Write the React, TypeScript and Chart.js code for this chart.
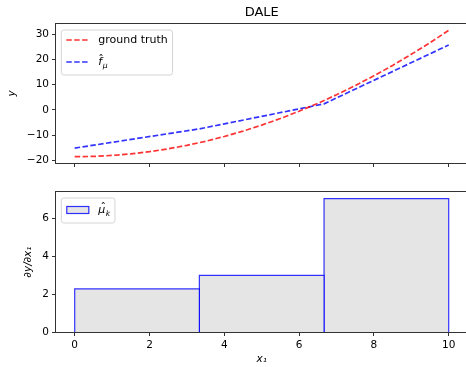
import React, { useEffect, useRef } from 'react';
import { Chart, registerables } from 'chart.js';

Chart.register(...registerables);

// ---------- data ----------
const gtX = [0, 0.5, 1, 1.5, 2, 2.5, 3, 3.5, 4, 4.5, 5, 5.5, 6, 6.5, 7, 7.5, 8, 8.5, 9, 9.5, 10];
const gtY = [-18.5, -18.4, -18.0, -17.4, -16.5, -15.4, -14.0, -12.4, -10.5, -8.4, -6.0, -3.4, -0.5, 2.6, 6.0, 9.6, 13.5, 17.6, 22.0, 26.6, 31.5];
const fhatX = [0, 3.333, 6.667, 10];
const fhatY = [-15.1, -7.5, 2.4, 25.7];
const binEdges = [0, 3.333, 6.667, 10];
const binHeights = [2.27, 2.98, 7.03];
const xRange = [-0.5, 10.5];
const topYRange = [-21, 34];
const botYRange = [0, 7.38];
const xStep = 2;
const topYStep = 10;
const botYStep = 2;

// ---------- styles ----------
const FONT = "'DejaVu Sans', sans-serif";
const RED = 'rgba(255,0,0,0.8)';
const BLUE = 'rgba(0,0,255,0.8)';
const BAR_FILL = '#e5e5e5';
const SPINE = '#333';
const DASH = [5.5, 2.4];
const LINE_W = 1.7;

const minusFmt = (v: any) => String(v).replace('-', '\u2212');

function drawLabel(ctx: CanvasRenderingContext2D, label: any, x: number, y: number, size: number) {
  ctx.fillStyle = '#000';
  ctx.textBaseline = 'middle';
  ctx.textAlign = 'left';
  if (label.text) {
    ctx.font = `${size}px ${FONT}`;
    ctx.fillText(label.text, x, y);
    return;
  }
  ctx.font = `italic ${size}px ${FONT}`;
  ctx.fillText(label.base, x, y);
  const bw = ctx.measureText(label.base).width;
  ctx.textAlign = 'center';
  ctx.font = `${size}px ${FONT}`;
  ctx.fillText('\u02C6', x + bw * 0.7, y - size * 0.18);
  ctx.textAlign = 'left';
  ctx.font = `italic ${size * 0.7}px ${FONT}`;
  ctx.fillText(label.sub, x + bw + 0.5, y + size * 0.35);
}

function labelWidth(ctx: CanvasRenderingContext2D, label: any, size: number) {
  if (label.text) {
    ctx.font = `${size}px ${FONT}`;
    return ctx.measureText(label.text).width;
  }
  ctx.font = `italic ${size}px ${FONT}`;
  const a = ctx.measureText(label.base).width;
  ctx.font = `italic ${size * 0.7}px ${FONT}`;
  return a + 0.5 + ctx.measureText(label.sub).width;
}

const framePlugin = {
  id: 'frame',
  afterDatasetsDraw(chart: any) {
    const { ctx, chartArea: a } = chart;
    ctx.save();
    ctx.strokeStyle = SPINE;
    ctx.lineWidth = 1;
    const l = Math.round(a.left) - 0.5;
    const t = Math.round(a.top) - 0.5;
    const r = Math.round(a.right) + 0.5;
    const b = Math.round(a.bottom) + 0.5;
    ctx.strokeRect(l, t, r - l, b - t);
    ctx.restore();
  },
};

const legendPlugin = {
  id: 'mplLegend',
  afterDraw(chart: any, _args: any, opts: any) {
    const items = opts && opts.items;
    if (!items || !items.length) return;
    const { ctx, chartArea: a } = chart;
    const size = opts.fontSize;
    ctx.save();
    let maxW = 0;
    items.forEach((it: any) => { maxW = Math.max(maxW, labelWidth(ctx, it.label, size)); });
    const x0 = a.left + opts.offsetX;
    const y0 = a.top + opts.offsetY;
    const w = opts.padL + opts.handleLen + opts.gap + maxW + opts.padR;
    const h = opts.height;
    const rr = 2.5;
    ctx.beginPath();
    ctx.moveTo(x0 + rr, y0);
    ctx.lineTo(x0 + w - rr, y0);
    ctx.quadraticCurveTo(x0 + w, y0, x0 + w, y0 + rr);
    ctx.lineTo(x0 + w, y0 + h - rr);
    ctx.quadraticCurveTo(x0 + w, y0 + h, x0 + w - rr, y0 + h);
    ctx.lineTo(x0 + rr, y0 + h);
    ctx.quadraticCurveTo(x0, y0 + h, x0, y0 + h - rr);
    ctx.lineTo(x0, y0 + rr);
    ctx.quadraticCurveTo(x0, y0, x0 + rr, y0);
    ctx.closePath();
    ctx.fillStyle = 'rgba(255,255,255,0.8)';
    ctx.fill();
    ctx.strokeStyle = '#d4d4d4';
    ctx.lineWidth = 1;
    ctx.stroke();
    items.forEach((it: any, i: number) => {
      const cy = y0 + opts.rows[i];
      const hx = x0 + opts.padL;
      if (it.kind === 'line') {
        ctx.beginPath();
        ctx.setLineDash(DASH);
        ctx.strokeStyle = it.color;
        ctx.lineWidth = LINE_W;
        ctx.moveTo(hx, cy);
        ctx.lineTo(hx + opts.handleLen, cy);
        ctx.stroke();
        ctx.setLineDash([]);
      } else {
        ctx.fillStyle = it.fill;
        ctx.fillRect(hx, cy - 4, opts.handleLen, 8);
        ctx.strokeStyle = it.color;
        ctx.lineWidth = 1.2;
        ctx.strokeRect(hx + 0.5, cy - 4 + 0.5, opts.handleLen - 1, 8 - 1);
      }
      drawLabel(ctx, it.label, hx + opts.handleLen + opts.gap, cy, size);
    });
    ctx.restore();
  },
};

function axisCommon(extra: any) {
  return {
    type: 'linear',
    border: { display: false },
    grid: {
      display: true,
      drawOnChartArea: false,
      drawTicks: true,
      tickLength: 4,
      tickColor: SPINE,
      tickWidth: 1,
    },
    ...extra,
  };
}

export default function App() {
  const topRef = useRef<HTMLCanvasElement>(null);
  const botRef = useRef<HTMLCanvasElement>(null);

  useEffect(() => {
    Chart.defaults.font.family = FONT;
    const tickFont = { family: FONT, size: 10.5 };
    const axisTitleFont = { family: FONT, size: 10.5, style: 'italic' };

    const top = new Chart(topRef.current as HTMLCanvasElement, {
      type: 'line',
      data: {
        datasets: [
          {
            label: 'ground truth',
            data: gtX.map((x, i) => ({ x, y: gtY[i] })),
            borderColor: RED,
            borderWidth: LINE_W,
            borderDash: DASH,
            pointRadius: 0,
            fill: false,
            tension: 0,
          },
          {
            label: 'f_mu',
            data: fhatX.map((x, i) => ({ x, y: fhatY[i] })),
            borderColor: BLUE,
            borderWidth: LINE_W,
            borderDash: DASH,
            pointRadius: 0,
            fill: false,
            tension: 0,
          },
        ],
      },
      options: {
        responsive: false,
        animation: false,
        devicePixelRatio: 1,
        events: [],
        layout: { padding: { left: 0, right: 12.6, top: 0, bottom: 0 } },
        plugins: {
          legend: { display: false },
          tooltip: { enabled: false },
          title: {
            display: true,
            text: 'DALE',
            color: '#000',
            fullSize: false,
            font: { family: FONT, size: 13, weight: 'normal' },
            padding: { top: 5, bottom: 3.4 },
          },
          mplLegend: {
            fontSize: 11,
            offsetX: 5.3,
            offsetY: 6,
            padL: 5,
            padR: 4.7,
            handleLen: 23,
            gap: 9,
            height: 45,
            rows: [10, 32],
            items: [
              { kind: 'line', color: RED, label: { text: 'ground truth' } },
              { kind: 'line', color: BLUE, label: { base: 'f', sub: '\u03BC' } },
            ],
          },
        } as any,
        scales: {
          x: axisCommon({
            min: xRange[0],
            max: xRange[1],
            ticks: { display: false, stepSize: xStep, includeBounds: false },
            afterFit: (s: any) => { s.height = 17; },
          }),
          y: axisCommon({
            min: topYRange[0],
            max: topYRange[1],
            ticks: { stepSize: topYStep, includeBounds: false, color: '#000', font: tickFont, padding: 3, callback: minusFmt },
            title: { display: true, text: 'y', color: '#000', font: axisTitleFont, padding: { top: 6, bottom: 0 } },
            afterFit: (s: any) => { s.width = 56; },
          }),
        } as any,
      },
      plugins: [framePlugin, legendPlugin],
    } as any);

    const bot = new Chart(botRef.current as HTMLCanvasElement, {
      type: 'line',
      data: {
        datasets: binHeights.map((h, i) => ({
          label: 'mu_k',
          data: [
            { x: binEdges[i], y: 0 },
            { x: binEdges[i], y: h },
            { x: binEdges[i + 1], y: h },
            { x: binEdges[i + 1], y: 0 },
          ],
          borderColor: BLUE,
          borderWidth: 1.2,
          backgroundColor: BAR_FILL,
          fill: 'origin',
          pointRadius: 0,
          tension: 0,
        })),
      },
      options: {
        responsive: false,
        animation: false,
        devicePixelRatio: 1,
        events: [],
        layout: { padding: { left: 0, right: 12.6, top: 12, bottom: 0 } },
        plugins: {
          legend: { display: false },
          tooltip: { enabled: false },
          mplLegend: {
            fontSize: 11,
            offsetX: 5.3,
            offsetY: 6,
            padL: 5,
            padR: 4.7,
            handleLen: 23,
            gap: 9,
            height: 25,
            rows: [12],
            items: [
              { kind: 'patch', color: BLUE, fill: BAR_FILL, label: { base: '\u03BC', sub: 'k' } },
            ],
          },
        } as any,
        scales: {
          x: axisCommon({
            min: xRange[0],
            max: xRange[1],
            ticks: { stepSize: xStep, includeBounds: false, color: '#000', font: tickFont, padding: 3, maxRotation: 0, callback: minusFmt },
            title: { display: true, text: 'x\u2081', color: '#000', font: axisTitleFont, padding: { top: 0, bottom: 1 } },
            afterFit: (s: any) => { s.height = 35; },
          }),
          y: axisCommon({
            min: botYRange[0],
            max: botYRange[1],
            ticks: { stepSize: botYStep, includeBounds: false, color: '#000', font: tickFont, padding: 3, callback: minusFmt },
            title: { display: true, text: '\u2202y/\u2202x\u2081', color: '#000', font: axisTitleFont, padding: { top: 22, bottom: 0 } },
            afterFit: (s: any) => { s.width = 56; },
          }),
        } as any,
      },
      plugins: [framePlugin, legendPlugin],
    } as any);

    return () => {
      top.destroy();
      bot.destroy();
    };
  }, []);

  return (
    <div style={{ position: 'fixed', left: 0, top: 0, width: 466, height: 367, overflow: 'hidden', background: '#fff' }}>
      <canvas ref={topRef} width={480} height={180} style={{ position: 'absolute', left: 0, top: 0, width: 480, height: 180 }} />
      <canvas ref={botRef} width={480} height={187} style={{ position: 'absolute', left: 0, top: 180, width: 480, height: 187 }} />
    </div>
  );
}
